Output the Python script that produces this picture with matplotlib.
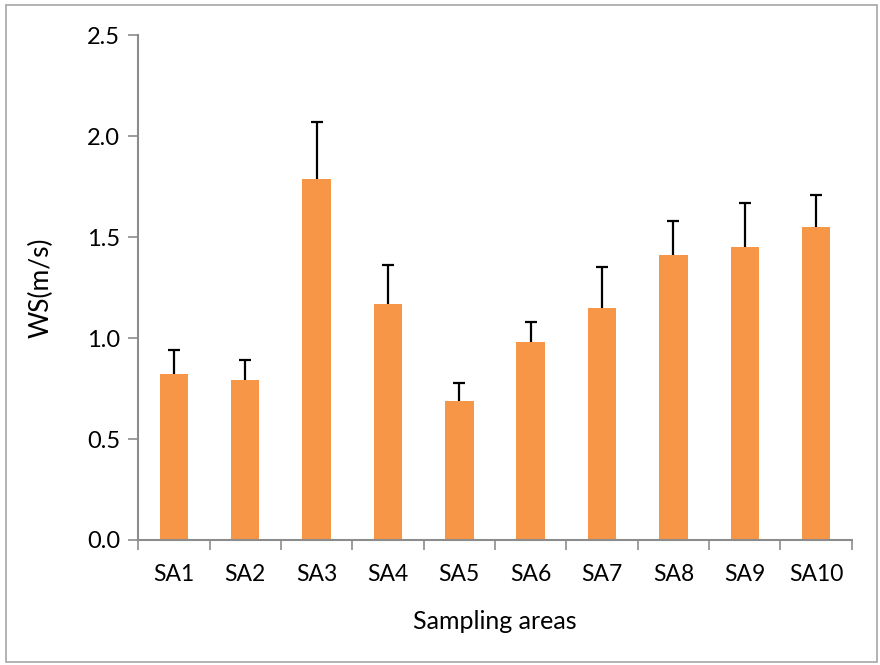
import matplotlib
matplotlib.use('Agg')
import matplotlib.pyplot as plt
from matplotlib.patches import Rectangle
import numpy as np

categories = ['SA1', 'SA2', 'SA3', 'SA4', 'SA5', 'SA6', 'SA7', 'SA8', 'SA9', 'SA10']
ws_mean = [0.82, 0.79, 1.79, 1.17, 0.69, 0.98, 1.15, 1.41, 1.45, 1.55]
ws_err = [0.12, 0.10, 0.28, 0.19, 0.09, 0.10, 0.20, 0.17, 0.22, 0.16]
y_ticks = [0.0, 0.5, 1.0, 1.5, 2.0, 2.5]

plt.rcParams['font.family'] = ['Lato', 'DejaVu Sans']
axis_grey = '#8c8c8c'

fig = plt.figure(figsize=(8.8, 6.65), dpi=100)
ax = fig.add_axes([0.157, 0.188, 0.811, 0.759])

x = np.arange(len(categories))
ax.bar(x, ws_mean, width=0.4, color='#f79646', zorder=2)
_, caps, _ = ax.errorbar(x, ws_mean, yerr=[np.zeros(len(ws_err)), ws_err], fmt='none',
                         ecolor='black', elinewidth=1.6, capsize=4, capthick=1.6, zorder=3)
caps[0].set_visible(False)  # upper-only error bars

ax.set_xlim(-0.5, len(categories) - 0.5)
ax.set_ylim(0, 2.5)
ax.set_yticks(y_ticks)
ax.set_yticklabels([f'{v:.1f}' for v in y_ticks], fontsize=17)
ax.set_xticks(x)
ax.set_xticklabels(categories, fontsize=16.5)
ax.tick_params(axis='x', length=0, pad=17)
ax.set_xticks(np.arange(-0.5, len(categories)), minor=True)
ax.tick_params(axis='x', which='minor', length=7, color=axis_grey, width=1.2)
ax.tick_params(axis='y', length=7, color=axis_grey, width=1.2, pad=6)

for side in ('top', 'right'):
    ax.spines[side].set_visible(False)
for side in ('left', 'bottom'):
    ax.spines[side].set_color(axis_grey)
    ax.spines[side].set_linewidth(1.5)

ax.set_ylabel('WS(m/s)', fontsize=19, labelpad=24)
ax.set_xlabel('Sampling areas', fontsize=18, labelpad=18)

fig.patches.append(Rectangle((0.007, 0.005), 0.99, 0.988, transform=fig.transFigure,
                             fill=False, edgecolor='#a6a6a6', linewidth=1.2))

fig.savefig('out.png', dpi=100)
